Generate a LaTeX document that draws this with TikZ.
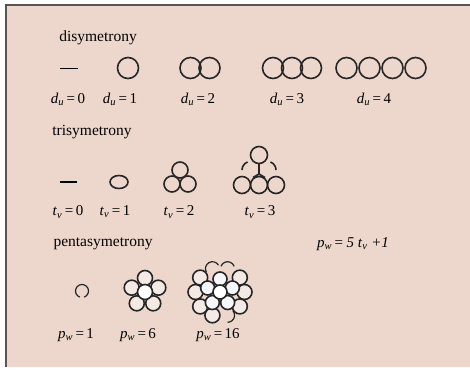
\documentclass[tikz,border=0pt]{standalone}
\usepackage{fontspec}
\setmainfont{Liberation Serif}
\usetikzlibrary{calc}

\definecolor{paper}{RGB}{237,214,203}
\definecolor{rim}{RGB}{90,84,84}
\definecolor{pale}{RGB}{246,247,251}
\definecolor{blush}{RGB}{244,234,229}
\newcommand{\eqlbl}[3]{\textit{#1}\textsubscript{\textit{#2}}\,=\,#3}

\begin{document}
\begin{tikzpicture}[x=1pt,y=-1pt,
  ball/.style={draw=black!85,line width=1.6pt},
  lbl/.style={font=\fontsize{15}{17}\selectfont,inner sep=0pt},
  ttl/.style={font=\fontsize{15.5}{18}\selectfont,inner sep=0pt}]
  \useasboundingbox (0,0) rectangle (470,370);
  \fill[paper] (6,5) rectangle (470,367);
  \draw[rim,line width=1.5pt] (6,367) -- (6,5) -- (470,5);

  % disymetrony
  \node[ttl] (di) at (98,38) {disymetrony};
  \draw[line width=1pt] (60,68) -- (78,68);
  \draw[ball] (128,68) circle (10.5);
  \foreach \cx in {190.5,209.5} \draw[ball] (\cx,68) circle (10.5);
  \foreach \cx in {273,292,311} \draw[ball] (\cx,68) circle (10.5);
  \foreach \cx in {346.5,369.5,392.5,415.5} \draw[ball] (\cx,68) circle (10.5);
  \foreach \n/\xx in {0/68,1/120,2/198,3/287,4/374}
    \node[lbl] (d\n) at (\xx,99) {\eqlbl{d}{u}{\n}};

  % trisymetrony
  \node[ttl] (tri) at (92,132) {trisymetrony};
  \draw[line width=2.2pt] (60,182) -- (77,182);
  \draw[ball] (119,182) ellipse (9 and 6.5);
  \foreach \cx/\cy in {180/170,172/184,188/184} \draw[ball] (\cx,\cy) circle (8);
  \foreach \cx/\cy in {259/155,242/185,259/185,276/185} \draw[ball] (\cx,\cy) circle (8.5);
  \draw[ball] (250.5,170) ++(180:8.5) arc[start angle=180,end angle=250,radius=8.5];
  \draw[ball] (267.5,170) ++(290:8.5) arc[start angle=290,end angle=360,radius=8.5];
  \draw[ball] (259,163.5) -- (259,174) (253,177.5) -- (259,174) -- (265,177.5);
  \foreach \n/\xx in {0/68,1/115,2/179,3/260}
    \node[lbl] (t\n) at (\xx,212) {\eqlbl{t}{v}{\n}};

  % pentasymetrony
  \node[ttl] (penta) at (103,244) {pentasymetrony};
  \node[lbl] (rule) at (353,244) {\textit{p}\textsubscript{\textit{w}}\,= \textit{5 t}\textsubscript{\textit{v}} \textit{+1}};
  \draw[ball,line width=1.2pt] (82,291) ++(110:6.5) arc[start angle=110,end angle=430,radius=6.5];
  \foreach \a in {270,342,54,126,198}
    \draw[ball,fill=blush] ($(145,292)+(\a:14)$) circle (7.5);
  \draw[ball,fill=white] (145,292) circle (7.5);
  \foreach \a [count=\i] in {252,288,324,0,36,72,108,144,180,216}{
    \ifnum\i=1
      \draw[ball,line width=1.2pt] ($(220,292)+(\a:24.5)$) ++(150:7) arc[start angle=150,end angle=330,radius=7];
    \else\ifnum\i=2
      \draw[ball,line width=1.2pt] ($(220,292)+(\a:24.5)$) ++(200:7) arc[start angle=200,end angle=340,radius=7];
    \else\ifnum\i=6
      \draw[ball,line width=1.2pt] ($(220,292)+(\a:24.5)$) ++(320:7) arc[start angle=320,end angle=450,radius=7];
    \else
      \draw[ball,fill=blush] ($(220,292)+(\a:24.5)$) circle (7.5);
    \fi\fi\fi}
  \foreach \a in {270,342,54,126,198}
    \draw[ball,fill=pale] ($(220,292)+(\a:13)$) circle (7);
  \draw[ball,fill=white] (220,292) circle (7);
  \foreach \n/\xx in {1/76,6/138,16/218}
    \node[lbl] (p\n) at (\xx,335) {\eqlbl{p}{w}{\n}};
\end{tikzpicture}
\end{document}
